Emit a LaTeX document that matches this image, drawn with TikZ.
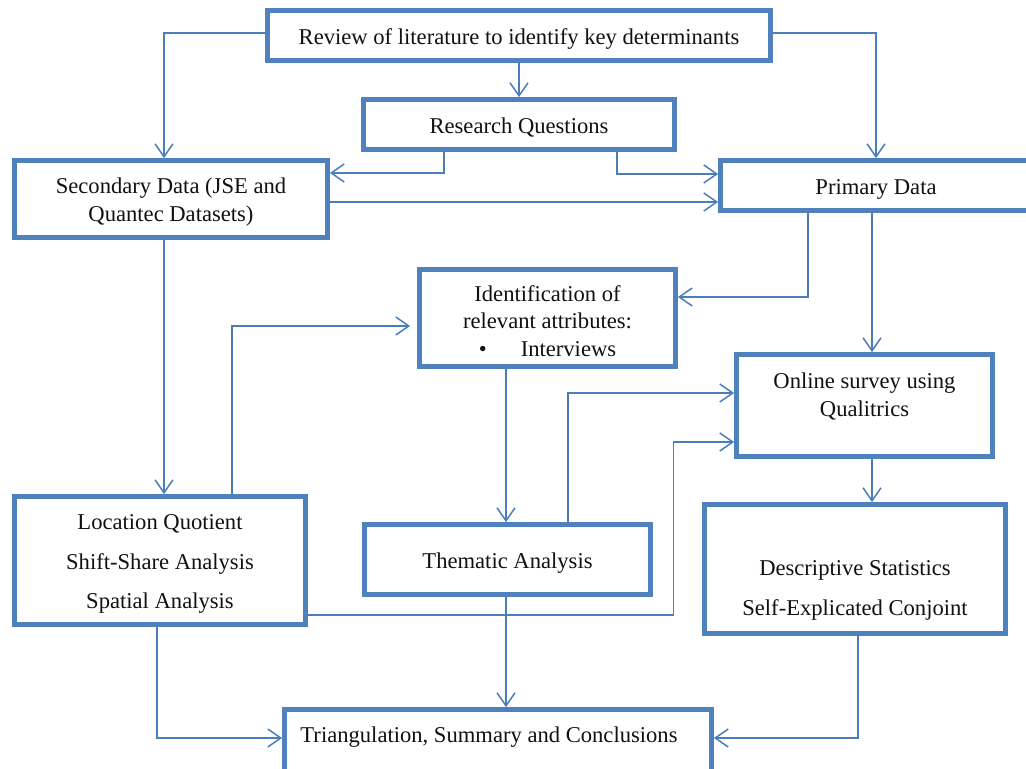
\documentclass[tikz,border=0pt]{standalone}
\usepackage{fontspec}
\setmainfont{Liberation Serif}
\usepackage{xcolor}
\usepackage{tikz}
\usetikzlibrary{arrows.meta, positioning, calc}
\definecolor{FBox}{HTML}{4F81BD}
\definecolor{FLink}{HTML}{4A7EBB}
\definecolor{FInk}{HTML}{111111}
% invisible struts that push a label up or down inside its box
\newcommand{\lowpad}[1]{\rule[-#1]{0pt}{#1}}
\newcommand{\highpad}[1]{\rule{0pt}{#1}}

\begin{document}
\begin{tikzpicture}[
  x=0.5pt, y=-0.5pt,
  font=\fontsize{11.3pt}{13.6pt}\selectfont,
  box/.style={rectangle, draw=FBox, line width=2.4pt, fill=white,
              text=FInk, align=center, inner sep=2pt,
              execute at begin node=\highpad{11pt}},
  flow/.style={-{Straight Barb[length=6.5pt,width=9pt]}, draw=FLink,
               line width=0.75pt},
]
\useasboundingbox (0,0) rectangle (1026,769);

% ── top row ──────────────────────────────────────────────────────────────
\node[box, minimum width=251.5pt, minimum height=25pt] (review) at (519,35.5)
  {Review of literature to identify key determinants};
\node[box, minimum width=155.5pt, minimum height=25pt] (rq) at (519,124.5)
  {Research Questions};
\node[box, minimum width=156.5pt, minimum height=38.5pt] (sec) at (171,199)
  {\highpad{11pt}Secondary Data (JSE and\\Quantec Datasets)};
\node[box, minimum width=155.5pt, minimum height=25pt] (prim) at (876,185.5)
  {Primary Data};

% ── middle row ───────────────────────────────────────────────────────────
\node[box, minimum width=128pt, minimum height=48.5pt] (ident) at (547.5,318)
  {\highpad{11pt}Identification of\\relevant attributes:\\
   \textbullet\hspace{17pt}Interviews};
\node[box, minimum width=128pt, minimum height=51pt] (online) at (864.5,405.5)
  {\highpad{11pt}Online survey using\\Qualitrics\lowpad{14pt}};

% ── analysis row ─────────────────────────────────────────────────────────
\node[box, minimum width=145.5pt, minimum height=64pt] (loc) at (160,560.5)
  {\highpad{11pt}Location Quotient\\[6pt]Shift-Share Analysis\\[6pt]Spatial Analysis};
\node[box, minimum width=143pt, minimum height=35pt] (them) at (507.5,559.5)
  {Thematic Analysis};
\node[box, minimum width=150.5pt, minimum height=64.5pt] (desc) at (855,569)
  {\highpad{29pt}Descriptive Statistics\\[6pt]Self-Explicated Conjoint};

% ── result ───────────────────────────────────────────────────────────────
\node[box, minimum width=213.5pt, minimum height=32.5pt] (tri) at (498,742)
  {Triangulation, Summary and Conclusions\lowpad{10.5pt}\hspace*{9pt}};

% ── connectors ───────────────────────────────────────────────────────────
\draw[flow] ([yshift=1.25pt]review.west) -| ([xshift=-3.5pt]sec.north);
\draw[flow] (review) -- (rq);
\draw[flow] ([yshift=1.25pt]review.east) -| (prim.north);

\draw[flow] ([xshift=-37.5pt]rq.south) |- ([yshift=13pt]sec.east);
\draw[flow] ([xshift=49pt]rq.south) |- ([yshift=5.75pt]prim.west);
\draw[flow] ([yshift=-1.5pt]sec.east) -- ([yshift=-8.25pt]prim.west);

\draw[flow] ([xshift=-34pt]prim.south) |- ([yshift=10.5pt]ident.east);
\draw[flow] ([xshift=-2pt]prim.south) -- ([xshift=-2pt]prim.south |- online.north);
\draw[flow] ([xshift=-3.5pt]sec.south) -- ([xshift=-3.5pt]sec.south |- loc.north);

\draw[flow, shorten >=3.5pt] ([xshift=36pt]loc.north) |- ([yshift=-4pt]ident.west);
\draw[flow] ([xshift=-20.75pt]ident.south) -- ([xshift=-20.75pt]ident.south |- them.north);
\draw[flow] ([xshift=30.25pt]them.north) |- ([yshift=6.25pt]online.west);
\draw[flow] ([yshift=-27.25pt]loc.east)
  -| ([xshift=-30.25pt,yshift=-18.25pt]online.west)
  -- ([yshift=-18.25pt]online.west);
\draw[flow] ([xshift=3.75pt]online.south) -- ([xshift=3.75pt]online.south |- desc.north);

\draw[flow] ([xshift=-1.5pt]loc.south) |- ([yshift=2pt]tri.west);
\draw[flow] ([xshift=-0.75pt]them.south) -- ([xshift=-0.75pt]them.south |- tri.north);
\draw[flow] ([xshift=1.5pt]desc.south) |- ([yshift=2pt]tri.east);

\end{tikzpicture}
\end{document}
